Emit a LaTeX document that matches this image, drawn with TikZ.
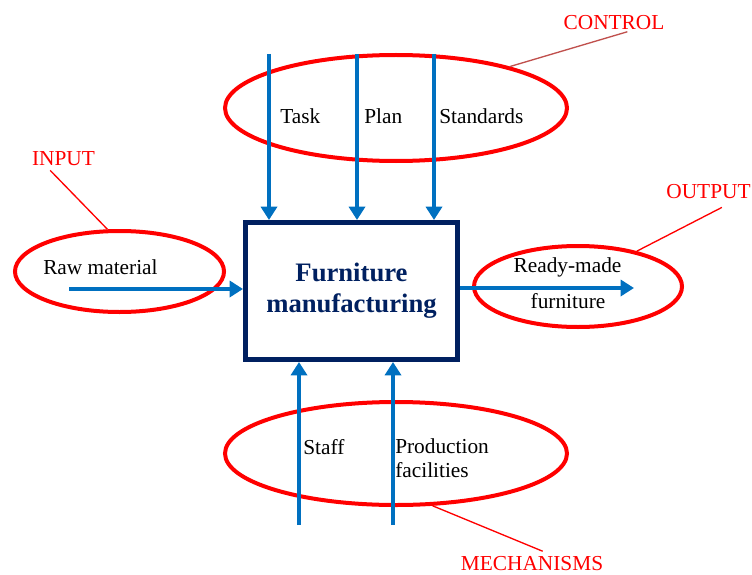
\documentclass[tikz,border=0pt]{standalone}
\usepackage{fontspec}
\setmainfont{Liberation Serif}
\usepackage{tikz}
\usetikzlibrary{positioning,
                arrows.meta,
                calc,
                shapes.geometric}

\begin{document}
\begin{tikzpicture}
[x=0.75pt,y=-0.75pt,
flow/.style={draw=flowcolor,line width=2.5pt,-{Triangle[length=10pt,width=12pt]}},
oval/.style={draw=ovalcolor,ellipse,line width=3pt,inner sep=0pt},
leader/.style={draw=ovalcolor,line width=1pt},
tag/.style={text=ovalcolor,inner sep=0pt,font=\fontsize{16}{19}\selectfont},
item text/.style={inner sep=0pt,font=\fontsize{16}{19}\selectfont}]
% Colors
\definecolor{flowcolor}{HTML}{0070C0}
\definecolor{ovalcolor}{HTML}{FF0000}
\definecolor{boxcolor}{HTML}{002060}
\definecolor{controlleader}{HTML}{C0504D}
\useasboundingbox (0,0) rectangle (752,574);
% The ovals
\node[oval,minimum width=256.5pt,minimum height=79.5pt] (control oval) at (396,108) {};
\node[oval,minimum width=156.75pt,minimum height=60.75pt] (input oval) at (119.5,271.5) {};
\node[oval,minimum width=156pt,minimum height=60.75pt] (output oval) at (578,286.5) {};
\node[oval,minimum width=256.5pt,minimum height=77.25pt] (mech oval) at (396,453.5) {};
% The box
\node[draw=boxcolor,line width=3.75pt,minimum width=159pt,minimum height=102.75pt,
align=center,text=boxcolor,font=\bfseries\fontsize{20}{23}\selectfont]
(box) at (351.5,291) {Furniture\\manufacturing};
% Control arrows
\foreach \x/\tx/\name/\text in {269/280/task/Task, 357/364/plan/Plan, 434/439/standards/Standards}
{
\coordinate (\name top) at (\x,54);
\draw[flow] (\name top) -- (\name top |- box.north);
\node[item text,anchor=west] (\name) at (\tx,116) {\text};
}
% Mechanism arrows
\foreach \x/\tx/\ty/\name/\text in {299/303/447/staff/Staff, 393/395/458/facilities/{Production\\facilities}}
{
\coordinate (\name bottom) at (\x,525);
\draw[flow] (\name bottom) -- (\name bottom |- box.south);
\node[item text,anchor=west,align=left,font=\fontsize{16}{18}\selectfont] (\name) at (\tx,\ty) {\text};
}
% Input and output
\coordinate (raw start) at (69,289);
\draw[flow] (raw start) -- (raw start -| box.west);
\node[item text,anchor=west] (raw) at (43,267) {Raw material};
\coordinate (ready end) at (634,288);
\draw[flow] (ready end -| box.east) -- (ready end);
\node[item text] (ready) at (567.5,267) {Ready-made};
\node[item text] (furniture) at (568,301) {furniture};
% Tags
\node[tag] (control label) at (614,23) {CONTROL};
\node[tag] (input label) at (63.5,159) {INPUT};
\node[tag] (output label) at (708.5,192) {OUTPUT};
\node[tag] (mech label) at (532,564) {MECHANISMS};
\draw[leader,draw=controlleader] (control oval.20) -- ([xshift=10pt,yshift=-1pt]control label.south);
\draw[leader] (input oval.106) -- ([xshift=-10pt,yshift=-3pt]input label.south);
\draw[leader] (output oval.31) -- ([xshift=10pt,yshift=-6pt]output label.south);
\draw[leader] (mech oval.-55) -- ([xshift=8pt,yshift=4pt]mech label.north);
\end{tikzpicture}
\end{document}
